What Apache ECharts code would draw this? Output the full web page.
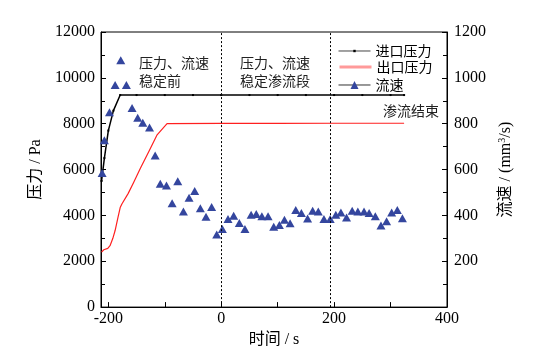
<!DOCTYPE html>
<html><head><meta charset="utf-8">
<script src="https://cdn.jsdelivr.net/npm/echarts@6/dist/echarts.min.js"></script>
<style>html,body{margin:0;padding:0;background:#fff}#c{width:534px;height:353px}</style>
</head><body><div id="c"></div>
<script>
// 进口压力 (time s, Pa)
const inletPressure = [[-212,5500],[-207,6500],[-200,7700],[-191,8570],[-179,9250],[-150,9250],[-100,9250],[-50,9250],[0,9250],[50,9250],[100,9250],[150,9250],[200,9250],[250,9250],[300,9250],[324,9250]];
// 出口压力 (time s, Pa)
const outletPressure = [[-212,2400],[-208,2500],[-205,2580],[-201,2560],[-197,2680],[-192,3000],[-188,3340],[-183,3900],[-179,4340],[-176,4500],[-165,4950],[-155,5450],[-143,6065],[-128,6800],[-114,7500],[-96,8000],[0,8010],[100,8010],[200,8020],[324,8020]];
// 流速 (time s, mm3/s)
const flowRate = [[-211,585],[-207,728],[-198,850],[-188,969],[-178,1077],[-168,969],[-158,869],[-148,826],[-139,804],[-127,783],[-117,661],[-108,538],[-97,530],[-87,453],[-77,549],[-67,417],[-57,477],[-47,506],[-37,431],[-27,394],[-17,437],[-8,317],[2,341],[12,384],[22,399],[32,367],[42,341],[53,403],[62,406],[72,396],[83,396],[93,351],[103,358],[112,381],[122,366],[132,424],[142,410],[153,387],[162,420],[172,417],[182,384],[193,384],[203,403],[212,413],[222,391],[232,420],[242,417],[253,417],[262,410],[273,396],[283,356],[293,374],[302,413],[312,424],[321,388]];
// stage boundaries (time s)
const stageLines = [0, 193];
// x-axis ticks and labels
const xTicks = [-200,-100,0,100,200,300,400];
const xLabels = [-200,0,200,400];
const seriesNames = ['进口压力','出口压力','流速'];

const serif = '"Liberation Serif","Noto Sans CJK SC",serif';
const cjk = '"Noto Sans CJK SC",sans-serif';
const chart = echarts.init(document.getElementById('c'), null, {renderer:'canvas'});
const axisCommon = {
  axisLine:{show:true,onZero:false,lineStyle:{color:'#000',width:1}},
  axisTick:{show:true,inside:true,length:5,lineStyle:{color:'#000'}},
  minorTick:{show:true,splitNumber:2,length:4,lineStyle:{color:'#000'}},
  splitLine:{show:false},
  axisLabel:{color:'#000',fontSize:16,fontFamily:serif,formatter:v=>String(v)}
};
const legendBase = {orient:'vertical',left:333,itemWidth:32,itemGap:4,
  textStyle:{fontSize:14,fontFamily:cjk,color:'#000'}};
chart.setOption({
  animation:false,
  backgroundColor:'#fff',
  grid:{left:101,right:87,top:32,bottom:42,show:true,borderColor:'#000',borderWidth:1,backgroundColor:'transparent'},
  legend:[
    Object.assign({},legendBase,{top:39,itemHeight:3,
      data:[{name:seriesNames[0],lineStyle:{color:'#444',width:1},itemStyle:{color:'#000'}}]}),
    Object.assign({},legendBase,{top:55,itemHeight:10,
      data:[{name:seriesNames[1],lineStyle:{color:'#ff9a9a',width:3},itemStyle:{opacity:0}}]}),
    Object.assign({},legendBase,{top:73,itemHeight:10,
      data:[{name:seriesNames[2],lineStyle:{color:'#333',width:1,opacity:1}}]})
  ],
  xAxis:Object.assign({},axisCommon,{
    type:'value',min:-213,max:400,
    axisTick:Object.assign({},axisCommon.axisTick,{customValues:xTicks}),
    minorTick:{show:false},
    axisLabel:Object.assign({},axisCommon.axisLabel,{margin:4,customValues:xLabels}),
    name:'时间 / s',nameLocation:'middle',nameGap:24,
    nameTextStyle:{fontSize:16,fontFamily:serif,color:'#000'}
  }),
  yAxis:[
    Object.assign({},axisCommon,{
      type:'value',min:0,max:12000,interval:2000,position:'left',
      axisLabel:Object.assign({},axisCommon.axisLabel,{margin:6}),
      name:'压力 / Pa',nameLocation:'middle',nameGap:50,nameRotate:90,
      nameTextStyle:{fontSize:16,fontFamily:serif,color:'#000'}
    }),
    Object.assign({},axisCommon,{
      type:'value',min:0,max:1200,interval:200,position:'right',
      axisLabel:Object.assign({},axisCommon.axisLabel,{margin:7,formatter:v=> v===0?'':String(v)}),
      name:'流速 / (mm{sup|3}/s)',nameLocation:'middle',nameGap:44,nameRotate:90,
      nameTextStyle:{fontSize:16,fontFamily:serif,color:'#000',rich:{sup:{fontSize:10,verticalAlign:'bottom',padding:[0,0,8,0],fontFamily:serif,color:'#000'}}}
    })
  ],
  series:[
    {name:seriesNames[0],type:'line',yAxisIndex:0,data:inletPressure,symbol:'rect',symbolSize:2,showAllSymbol:true,
     itemStyle:{color:'#000'},lineStyle:{color:'#000',width:1.5}},
    {name:seriesNames[1],type:'line',yAxisIndex:0,data:outletPressure,symbol:'none',
     itemStyle:{color:'#ff2020'},lineStyle:{color:'#ff2020',width:1.2},
     markLine:{silent:true,symbol:'none',label:{show:false},lineStyle:{color:'#000',type:[2,2],width:1},
       data:stageLines.map(v=>({xAxis:v}))}},
    {name:seriesNames[2],type:'line',yAxisIndex:1,data:flowRate,symbol:'triangle',symbolSize:[9,8],
     itemStyle:{color:'#34469e'},lineStyle:{width:0,opacity:0}}
  ],
  graphic:[
    {type:'text',left:139,top:54,style:{text:'压力、流速\n稳定前',font:'14px '+cjk,fill:'#222',lineHeight:18}},
    {type:'text',left:240,top:54,style:{text:'压力、流速\n稳定渗流段',font:'14px '+cjk,fill:'#222',lineHeight:18,align:'center'}},
    {type:'text',left:383,top:104,style:{text:'渗流结束',font:'14px '+cjk,fill:'#222'}}
  ]
});
</script></body></html>
